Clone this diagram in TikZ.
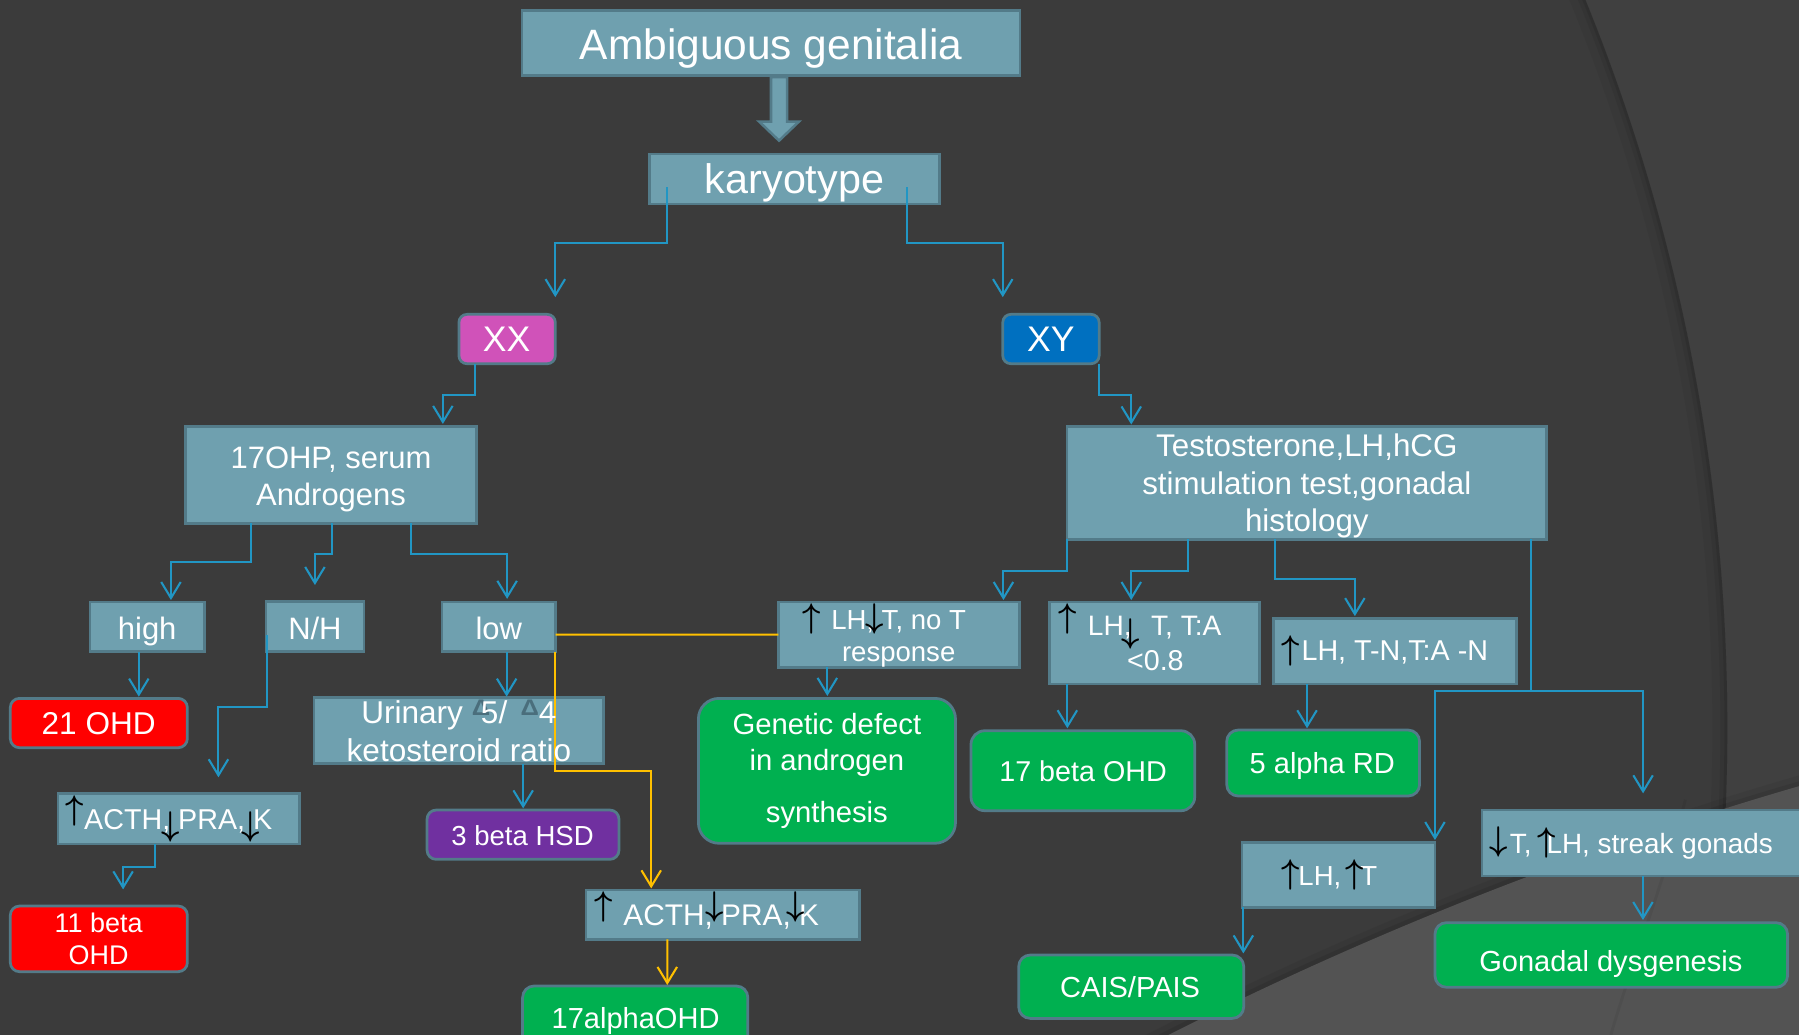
\documentclass[tikz,border=0pt]{standalone}
\usepackage{fontspec}
\usepackage{graphicx}
\setmainfont{Liberation Sans}
\usetikzlibrary{arrows.meta}

\definecolor{bgdark}{HTML}{3B3B3B}
\definecolor{bgring}{HTML}{404040}
\definecolor{bglight}{HTML}{535353}
\definecolor{boxfill}{HTML}{6FA0AF}
\definecolor{boxline}{HTML}{537B89}
\definecolor{deltacol}{HTML}{4A6E7C}
\definecolor{conblue}{HTML}{2196C4}
\definecolor{conyellow}{HTML}{FFC000}
\definecolor{dxred}{HTML}{FF0000}
\definecolor{dxgreen}{HTML}{00B050}
\definecolor{dxpurple}{HTML}{7030A0}
\definecolor{xxpink}{HTML}{D052B9}
\definecolor{xyblue}{HTML}{0070C0}

\newcommand\fsz[1]{\fontsize{#1pt}{#1pt}\selectfont}
\newcommand\arrup{\resizebox*{16pt}{26.5pt}{\boldmath$\uparrow$}}
\newcommand\arrdown{\resizebox*{16pt}{26.5pt}{\boldmath$\downarrow$}}
\newcommand\dlt{\raisebox{7.3pt}{\resizebox{16pt}{13.5pt}{\bfseries\color{deltacol}Δ}}}

\tikzset{
  box/.style={draw=boxline, fill=boxfill, line width=2.4pt, inner sep=0pt, outer sep=0pt},
  rbox/.style={box, rounded corners=#1},
  rbox/.default=10pt,
  lbl/.style={text=white, inner sep=0pt, outer sep=0pt, anchor=base},
  sym/.style={text=black, inner sep=0pt, outer sep=0pt},
  con/.style={draw=conblue, line width=1.8pt, -{Straight Barb[length=14pt,width=17pt]}},
  ycon/.style={con, draw=conyellow},
  yline/.style={draw=conyellow, line width=1.8pt},
}

\begin{document}
\begin{tikzpicture}[x=1pt, y=-1pt]
\useasboundingbox (0,0) rectangle (1568,902);

% ---------- background with the large rings ----------
\begin{scope}
  \clip (0,0) rectangle (1568,902);
  \fill[bgring] (0,0) rectangle (1568,902);
  \fill[bgdark] (-178.5,634.5) circle[radius=1684pt];
  \begin{scope}
    \clip (-178.5,634.5) circle[radius=1684pt];
    \draw[line width=26pt, color=black, opacity=0.04] (-178.5,634.5) circle[radius=1684pt];
    \draw[line width=12pt, color=black, opacity=0.06] (-178.5,634.5) circle[radius=1684pt];
    \draw[line width=5pt, color=black, opacity=0.08] (-178.5,634.5) circle[radius=1684pt];
  \end{scope}
  \draw[line width=18pt, color=black, opacity=0.05] (2460,3753) circle[radius=3194pt];
  \draw[line width=8pt, color=black, opacity=0.08] (2460,3753) circle[radius=3194pt];
  \fill[bglight] (2460,3753) circle[radius=3194pt];
  \draw[line width=2.5pt, color=black, opacity=0.06] (1469,697) .. controls (1450,770) and (1422,840) .. (1404,902);
\end{scope}

% ---------- boxes ----------
\node[box, minimum width=434pt, minimum height=57pt] (amb) at (672,37.5) {};
\node[box, minimum width=252.6pt, minimum height=43.6pt] (kar) at (692.7,156) {};
\node[rbox=7pt, fill=xxpink, minimum width=84pt, minimum height=43pt] (xx) at (442,295.5) {};
\node[rbox=7pt, fill=xyblue, minimum width=84pt, minimum height=43pt] (xy) at (916,295.5) {};
\node[box, minimum width=253pt, minimum height=84.5pt] (ohp) at (288.5,413.75) {};
\node[box, minimum width=418pt, minimum height=98pt] (testo) at (1139,421) {};
\node[box, minimum width=99.8pt, minimum height=43.3pt] (high) at (128.3,546.35) {};
\node[box, minimum width=85.5pt, minimum height=43.5pt] (nh) at (274.5,546.25) {};
\node[box, minimum width=99.1pt, minimum height=43.3pt] (low) at (434.75,546.35) {};
\node[rbox=8pt, fill=dxred, minimum width=154.3pt, minimum height=43pt] (ohd21) at (86.15,630.2) {};
\node[box, minimum width=210.7pt, minimum height=43.8pt] (acthL) at (155.95,713.7) {};
\node[rbox=8pt, fill=dxred, minimum width=154.3pt, minimum height=57.2pt] (ohd11) at (86.15,818.3) {};
\node[box, minimum width=252.5pt, minimum height=57.5pt] (uri) at (399.85,636.85) {};
\node[rbox=8pt, fill=dxpurple, minimum width=167.3pt, minimum height=43pt] (hsd) at (455.85,727.5) {};
\node[box, minimum width=238.5pt, minimum height=43pt] (acthR) at (630.05,797.2) {};
\node[rbox=10pt, fill=dxgreen, minimum width=196.3pt, minimum height=57pt] (ohd17a) at (553.65,887.9) {};
\node[box, minimum width=210.4pt, minimum height=56.9pt] (lhnot) at (783.7,553.15) {};
\node[rbox=18pt, fill=dxgreen, minimum width=224.1pt, minimum height=126.3pt] (gen) at (720.75,671.85) {};
\node[box, minimum width=183.4pt, minimum height=71.5pt] (ta) at (1006.3,560.45) {};
\node[rbox=12pt, fill=dxgreen, minimum width=195pt, minimum height=69.7pt] (ohd17b) at (943.8,671.75) {};
\node[box, minimum width=211.4pt, minimum height=57.2pt] (tn) at (1215.9,567.6) {};
\node[rbox=10pt, fill=dxgreen, minimum width=168.1pt, minimum height=57.5pt] (rd5) at (1153.25,665.05) {};
\node[box, minimum width=168.1pt, minimum height=56.6pt] (lht) at (1166.65,762.5) {};
\node[rbox=10pt, fill=dxgreen, minimum width=196.1pt, minimum height=55.2pt] (cais) at (985.95,860) {};
\node[box, minimum width=308.4pt, minimum height=57.5pt] (streak) at (1445.8,734.75) {};
\node[rbox=10pt, fill=dxgreen, minimum width=307.3pt, minimum height=56.3pt] (gonad) at (1404.35,832.35) {};

% ---------- block arrow from the title box ----------
\path (amb.south) ++(7,1.2) coordinate (fa);
\filldraw[fill=boxfill, draw=boxline, line width=2.2pt, line join=miter]
  (fa) ++(-7,0) -- ++(0,38.8) -- ++(-10.3,0) -- ++(17.3,16.6) -- ++(17.3,-16.6)
  -- ++(-10.3,0) -- ++(0,-38.8) -- cycle;

% ---------- connectors ----------
\draw[con] ([shift={(15,7.3)}]kar.west) -- ++(0,48.5) -| ([shift={(0,-15)}]xx.north east);
\draw[con] ([shift={(-28.5,7.3)}]kar.east) -- ++(0,48.5) -| ([shift={(0,-15)}]xy.north west);
\draw[con] ([shift={(-28,0)}]xx.south) -- ++(0,27.5) -| ([shift={(-29,-2)}]ohp.north east);
\draw[con] (xy.south east) -- ++(0,27) -| ([shift={(56,-2)}]testo.north west);

\draw[con] ([shift={(56.5,0)}]ohp.south west) -- ++(0,34) -| ([shift={(70.6,-1.7)}]high.north west);
\draw[con] ([shift={(0.6,0)}]ohp.south) -- ++(0,27.2) -| ([shift={(0,-14.6)}]nh.north);
\draw[con] ([shift={(-57,0)}]ohp.south east) -- ++(0,27) -| ([shift={(7.25,-2.7)}]low.north);

\draw[con] ([shift={(-7.3,0)}]high.south) -- ([shift={(34.85,-1.5)}]ohd21.north);
\draw[con] ([shift={(0.6,7.25)}]nh.west) -- ++(0,62.5) -| ([shift={(139.8,-14.3)}]acthL.north west);
\draw[con] ([shift={(-20.45,0)}]acthL.south) -- ++(0,19.8) -| ([shift={(21.15,-14.5)}]ohd11.north);
\draw[con] ([shift={(6.85,0)}]low.south) -- ([shift={(41.75,-0.9)}]uri.north);
\draw[con] ([shift={(56.15,0)}]uri.south) -- ([shift={(0.15,-1.4)}]hsd.north);

\draw[yline] ([shift={(0,6.8)}]low.east) -- (lhnot.west);
\draw[ycon] ([shift={(-0.8,0)}]low.south east) -- ++(0,103.7) -| ([shift={(56.8,-1.4)}]acthR.north west);
\draw[ycon] ([shift={(-48.45,0)}]acthR.south) -- ([shift={(27.95,-0.9)}]ohd17a.north);

\draw[con] (testo.south west) -- ++(0,27.4) -| ([shift={(196.1,-1.7)}]lhnot.north west);
\draw[con] ([shift={(105.1,0)}]testo.south west) -- ++(0,27.4) -| ([shift={(71.4,-1.7)}]ta.north west);
\draw[con] ([shift={(180.9,0)}]testo.south west) -- ++(0,34.7) -| ([shift={(70.7,-2)}]tn.north west);
\draw[con] ([shift={(-13.5,0)}]testo.south east) -- ++(0,132) -| ([shift={(0,-2)}]lht.north east);
\draw[con] ([shift={(-13.5,0)}]testo.south east) -- ++(0,132) -| ([shift={(140.5,-14.5)}]streak.north west);

\draw[con] ([shift={(29,0)}]tn.south west) -- ([shift={(70,-1.5)}]rd5.north west);
\draw[con] ([shift={(15.7,0)}]ta.south west) -- ([shift={(84,-2.1)}]ohd17b.north west);
\draw[con] ([shift={(42.6,0)}]lhnot.south west) -- ([shift={(0.35,-2.1)}]gen.north);
\draw[con] ([shift={(1.1,0)}]lht.south west) -- ([shift={(-0.3,-1.4)}]cais.north east);
\draw[con] ([shift={(140.4,0)}]streak.south west) -- ([shift={(181.3,-2.3)}]gonad.north west);

% ---------- texts ----------
\node[lbl, font=\fsz{37}] (amb-t) at (672,51.7) {Ambiguous genitalia};
\node[lbl, font=\fsz{36}] (kar-t) at (692.5,169) {karyotype};
\node[lbl, font=\fsz{31}] (xx-t) at (441.5,306.5) {XX};
\node[lbl, font=\fsz{31}] (xy-t) at (916,306.5) {XY};
\node[lbl, font=\fsz{27}] (ohp-t1) at (288.5,408.2) {17OHP, serum};
\node[lbl, font=\fsz{27}] (ohp-t2) at (288.5,441) {Androgens};
\node[lbl, font=\fsz{27.3}] (testo-t1) at (1139,398) {Testosterone,LH,hCG};
\node[lbl, font=\fsz{27.3}] (testo-t2) at (1139,430.9) {stimulation test,gonadal};
\node[lbl, font=\fsz{27.3}] (testo-t3) at (1139,463.4) {histology};
\node[lbl, font=\fsz{27}] (high-t) at (128.3,557.2) {high};
\node[lbl, font=\fsz{27}] (nh-t) at (274.5,557.2) {N/H};
\node[lbl, font=\fsz{27}] (low-t) at (434.7,557.2) {low};
\node[lbl, font=\fsz{27.5}] (ohd21-t) at (86,640) {21 OHD};

\node[lbl, anchor=base west, font=\fsz{25}] (acthL-t) at (73.4,723) {ACTH, PRA, K};
\node[sym] (acthL-a1) at (65.4,707) {\arrup};
\node[sym] (acthL-a2) at (148.9,720.5) {\arrdown};
\node[sym] (acthL-a3) at (218.6,720.5) {\arrdown};

\node[lbl, font=\fsz{23.5}] (ohd11-t1) at (86,812.6) {11 beta};
\node[lbl, font=\fsz{23.5}] (ohd11-t2) at (86,841) {OHD};

\node[lbl, font=\fsz{27.5}] (uri-t1) at (400,631) {Urinary \rlap{\dlt}\kern8pt5/ \kern4pt\dlt4};
\node[lbl, font=\fsz{27.5}] (uri-t2) at (400,664) {ketosteroid ratio};
\node[lbl, font=\fsz{24}] (hsd-t) at (455.5,736.5) {3 beta HSD};

\node[lbl, anchor=base west, font=\fsz{26}] (acthR-t) at (543.4,806.3) {ACTH, PRA, K};
\node[sym] (acthR-a1) at (526,790.5) {\arrup};
\node[sym] (acthR-a2) at (622.9,790.5) {\arrdown};
\node[sym] (acthR-a3) at (693.3,790.5) {\arrdown};
\node[lbl, font=\fsz{25.3}] (ohd17a-t) at (554,896) {17alphaOHD};

\node[lbl, font=\fsz{24}] (lhnot-t1) at (783.2,548.3) {LH, T, no T};
\node[lbl, font=\fsz{24}] (lhnot-t2) at (783.3,576.2) {response};
\node[sym] (lhnot-a1) at (707.2,539.5) {\arrup};
\node[sym] (lhnot-a2) at (762.1,539.3) {\arrdown};

\node[lbl, font=\fsz{25.5}] (gen-t1) at (720.7,640.6) {Genetic defect};
\node[lbl, font=\fsz{25.5}] (gen-t2) at (720.7,671.7) {in androgen};
\node[lbl, font=\fsz{25.5}] (gen-t3) at (720.7,717) {synthesis};

\node[lbl, font=\fsz{24.5}] (ta-t1) at (1006.4,553.5) {LH,\hspace{17pt}T, T:A};
\node[lbl, font=\fsz{25}] (ta-t2) at (1007,584.6) {<0.8};
\node[sym] (ta-a1) at (930.3,539.5) {\arrup};
\node[sym] (ta-a2) at (985.6,552.9) {\arrdown};
\node[lbl, font=\fsz{25}] (ohd17b-t) at (944,681.3) {17 beta OHD};

\node[lbl, font=\fsz{25}] (tn-t) at (1215.7,576.1) {LH, T-N,T:A -N};
\node[sym] (tn-a1) at (1125.2,567.4) {\arrup};
\node[lbl, font=\fsz{25.3}] (rd5-t) at (1152.5,674) {5 alpha RD};

\node[lbl, font=\fsz{24}] (lht-t) at (1166,771.4) {LH,\hspace{16.5pt}T};
\node[sym] (lht-a1) at (1125.2,762.3) {\arrup};
\node[sym] (lht-a2) at (1180.8,762.3) {\arrup};
\node[lbl, font=\fsz{25.3}] (cais-t) at (985,869.3) {CAIS/PAIS};

\node[lbl, anchor=base west, font=\fsz{24.3}] (streak-t) at (1316,743.8) {T,\hspace{13pt}LH, streak gonads};
\node[sym] (streak-a1) at (1306.5,733.9) {\arrdown};
\node[sym] (streak-a2) at (1348.2,734.5) {\arrup};
\node[lbl, font=\fsz{25.3}] (gonad-t) at (1404,847) {Gonadal dysgenesis};

\end{tikzpicture}
\end{document}
